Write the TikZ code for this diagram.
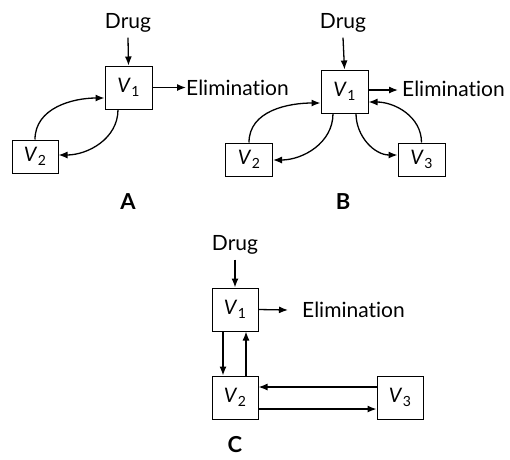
\documentclass[tikz,border=0pt]{standalone}
\usepackage{fontspec}
\setmainfont{Lato}[Ligatures=NoCommon]
\usetikzlibrary{arrows.meta}
\newcommand{\vsub}[1]{\textit{V}\kern0.5pt\raisebox{-0.4ex}{\fontsize{14}{15}\selectfont #1}}
\tikzset{
  box/.style={draw, line width=1pt, inner sep=0pt, minimum width=47pt, minimum height=43pt, font=\fontsize{20}{22}\selectfont},
  sbox/.style={box, minimum height=33pt},
  lbl/.style={inner sep=0pt, font=\fontsize{21}{23}\selectfont},
  panel/.style={inner sep=0pt, font=\fontsize{22}{24}\selectfont\bfseries},
  arr/.style={line width=1.3pt, -{Latex[length=9pt,width=7pt]}},
}
\begin{document}
\begin{tikzpicture}[x=1pt,y=-1pt]
\useasboundingbox (0,0) rectangle (510,459);
% ---------- A ----------
\node[lbl] (drugA) at (128,23) {Drug};
\node[box] (V1a) at (128.5,87.5) {\vsub{1}};
\node[sbox, minimum width=46pt] (V2a) at (35,156.5) {\vsub{2}};
\node[lbl, anchor=west] (elimA) at (186,88) {Elimination};
\node[panel] (labA) at (128,202) {A};
\draw[arr] ([yshift=-5pt]drugA.south) -- (V1a.north);
\coordinate (ea) at (V1a.east);
\draw[arr] (ea) -- (ea -| elimA.west);
\draw[arr] (V2a.north) to[out=90,in=180] ([yshift=-10.5pt]V1a.west);
\draw[arr] ([xshift=-10.5pt]V1a.south) to[out=-90,in=0] ([yshift=1.5pt]V2a.east);
% ---------- B ----------
\node[lbl] (drugB) at (343,23) {Drug};
\node[box] (V1b) at (344.5,91.5) {\vsub{1}};
\node[sbox] (V2b) at (249,159.5) {\vsub{2}};
\node[sbox] (V3b) at (421.5,159.5) {\vsub{3}};
\node[lbl, anchor=west] (elimB) at (402,89) {Elimination};
\node[panel] (labB) at (343,202) {B};
\draw[arr] ([yshift=-5pt]drugB.south) -- (V1b.north);
\coordinate (eb) at ([yshift=1.5pt]V1b.east);
\draw[arr] (eb) -- ([xshift=-4pt]eb -| elimB.west);
\draw[arr] (V2b.north) to[out=90,in=180] ([yshift=-11.5pt]V1b.west);
\draw[arr] ([xshift=-11.5pt]V1b.south) to[out=-90,in=0] ([yshift=-0.5pt]V2b.east);
\draw[arr] ([xshift=11.5pt]V1b.south) to[out=-90,in=180] ([yshift=4.5pt]V3b.west);
\draw[arr] (V3b.north) to[out=90,in=0] ([yshift=-10.5pt]V1b.east);
% ---------- C ----------
\node[lbl] (drugC) at (235,245) {Drug};
\node[box, minimum width=46pt] (V1c) at (235,309.5) {\vsub{1}};
\node[box, minimum width=46pt] (V2c) at (235,397.5) {\vsub{2}};
\node[box, minimum width=46pt] (V3c) at (400,397.5) {\vsub{3}};
\node[lbl, anchor=west] (elimC) at (302,310) {Elimination};
\node[panel] (labC) at (235,445) {C};
\draw[arr] ([yshift=-5pt]drugC.south) -- (V1c.north);
\draw[arr] (V1c.east) -- ([xshift=-14pt]elimC.west);
\draw[arr] ([xshift=-12pt]V1c.south) -- ([xshift=-12pt]V2c.north);
\draw[arr] ([xshift=11pt]V2c.north) -- ([xshift=11pt]V1c.south);
\draw[arr] ([yshift=10.5pt]V3c.west) -- ([yshift=10.5pt]V2c.east);
\draw[arr] ([yshift=-11.5pt]V2c.east) -- ([yshift=-11.5pt]V3c.west);
\end{tikzpicture}
\end{document}
